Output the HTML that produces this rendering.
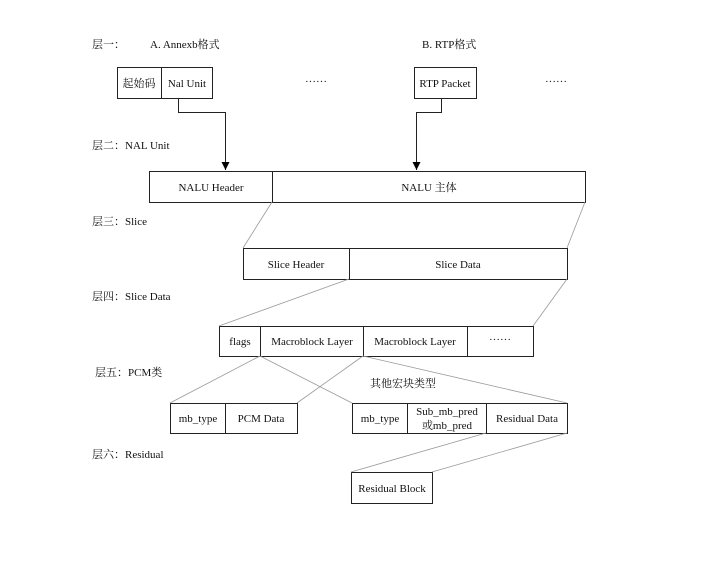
<!DOCTYPE html>
<html><head><meta charset="utf-8"><style>
html,body{margin:0;padding:0;background:#fff;}
svg text{font-family:"Liberation Serif","Noto Serif CJK SC","Noto Sans CJK SC",serif;font-size:11px;fill:#111;}
</style></head><body>
<svg width="720" height="578" xmlns="http://www.w3.org/2000/svg">
<defs><marker id="a" markerWidth="8" markerHeight="8" refX="8" refY="4" orient="auto" markerUnits="userSpaceOnUse"><path d="M0,0 L8,4 L0,8 z" fill="#000"/></marker></defs>
<g fill="none" stroke="#222" stroke-width="1">
<rect x="117.5" y="67.5" width="95" height="31"/><line x1="161.5" y1="67.5" x2="161.5" y2="98.5"/>
<rect x="414.5" y="67.5" width="62" height="31"/>
<rect x="149.5" y="171.5" width="436" height="31"/><line x1="272.5" y1="171.5" x2="272.5" y2="202.5"/>
<rect x="243.5" y="248.5" width="324" height="31"/><line x1="349.5" y1="248.5" x2="349.5" y2="279.5"/>
<rect x="219.5" y="326.5" width="314" height="30"/><line x1="260.5" y1="326.5" x2="260.5" y2="356.5"/><line x1="363.5" y1="326.5" x2="363.5" y2="356.5"/><line x1="467.5" y1="326.5" x2="467.5" y2="356.5"/>
<rect x="170.5" y="403.5" width="127" height="30"/><line x1="225.5" y1="403.5" x2="225.5" y2="433.5"/>
<rect x="352.5" y="403.5" width="215" height="30"/><line x1="407.5" y1="403.5" x2="407.5" y2="433.5"/><line x1="486.5" y1="403.5" x2="486.5" y2="433.5"/>
<rect x="351.5" y="472.5" width="81" height="31"/>
<polyline points="178.5,98.5 178.5,112.5 225.5,112.5 225.5,170" marker-end="url(#a)"/>
<polyline points="441.5,98.5 441.5,112.5 416.5,112.5 416.5,170" marker-end="url(#a)"/>
</g>
<g stroke="#999" stroke-width="0.8">
<line x1="272" y1="202" x2="243" y2="248"/><line x1="585" y1="202" x2="567" y2="248"/>
<line x1="349" y1="279" x2="219" y2="326"/><line x1="567" y1="279" x2="533" y2="326"/>
<line x1="260" y1="356" x2="170" y2="403"/><line x1="363" y1="356" x2="297" y2="403"/>
<line x1="260" y1="356" x2="352" y2="403"/><line x1="363" y1="356" x2="567" y2="403"/>
<line x1="486" y1="433" x2="351" y2="472"/><line x1="567" y1="433" x2="432" y2="472"/>
</g>
<text x="92" y="48">层一：</text>
<text x="150" y="48">A. Annexb格式</text>
<text x="422" y="48">B. RTP格式</text>
<text x="139" y="87" text-anchor="middle">起始码</text>
<text x="187" y="87" text-anchor="middle">Nal Unit</text>
<text x="316" y="85" text-anchor="middle">······</text>
<text x="445" y="87" text-anchor="middle">RTP Packet</text>
<text x="556" y="85" text-anchor="middle">······</text>
<text x="92" y="149">层二：NAL Unit</text>
<text x="211" y="191" text-anchor="middle">NALU Header</text>
<text x="429" y="191" text-anchor="middle">NALU 主体</text>
<text x="92" y="225">层三：Slice</text>
<text x="296" y="268" text-anchor="middle">Slice Header</text>
<text x="458" y="268" text-anchor="middle">Slice Data</text>
<text x="92" y="300">层四：Slice Data</text>
<text x="240" y="345" text-anchor="middle">flags</text>
<text x="312" y="345" text-anchor="middle">Macroblock Layer</text>
<text x="415" y="345" text-anchor="middle">Macroblock Layer</text>
<text x="500" y="343" text-anchor="middle">······</text>
<text x="95" y="376">层五：PCM类</text>
<text x="370" y="387">其他宏块类型</text>
<text x="198" y="422" text-anchor="middle">mb_type</text>
<text x="261" y="422" text-anchor="middle">PCM Data</text>
<text x="380" y="422" text-anchor="middle">mb_type</text>
<text x="447" y="415" text-anchor="middle">Sub_mb_pred</text>
<text x="447" y="429" text-anchor="middle">或mb_pred</text>
<text x="527" y="422" text-anchor="middle">Residual Data</text>
<text x="92" y="458">层六：Residual</text>
<text x="392" y="492" text-anchor="middle">Residual Block</text>
</svg>
</body></html>
